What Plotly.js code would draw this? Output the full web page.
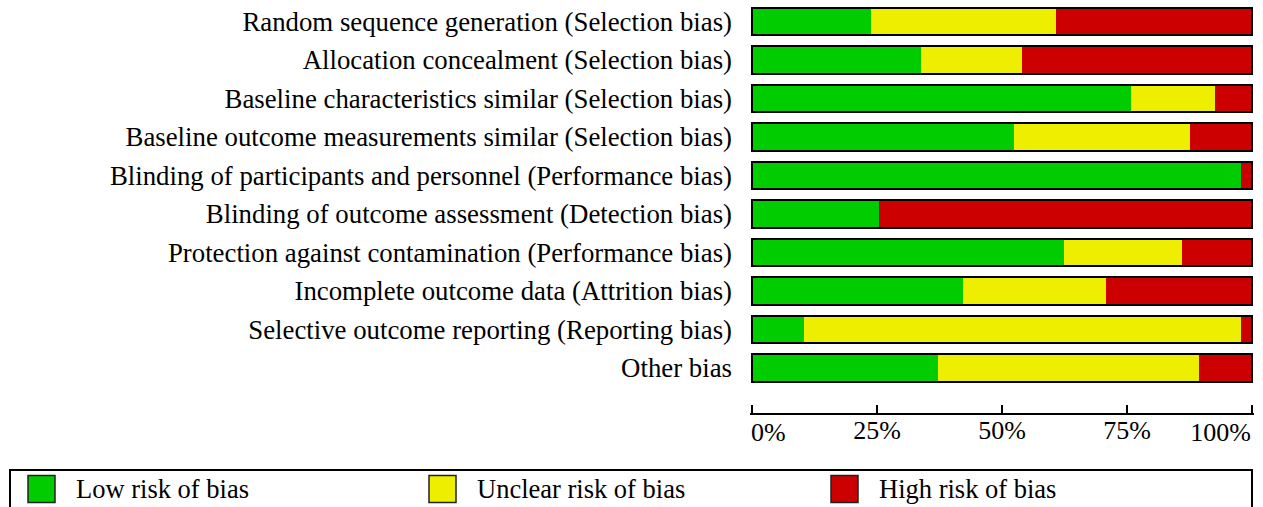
<!DOCTYPE html>
<html>
<head>
<meta charset="utf-8">
<script src="https://cdn.plot.ly/plotly-3.0.1.min.js"></script>
<style>
  html, body { margin: 0; padding: 0; background: #fff; }
  #chart { width: 1263px; height: 507px; }
</style>
</head>
<body>
<div id="chart"></div>
<script>
// ---- Data ----
const categories = [
  "Random sequence generation (Selection bias)",
  "Allocation concealment (Selection bias)",
  "Baseline characteristics similar (Selection bias)",
  "Baseline outcome measurements similar (Selection bias)",
  "Blinding of participants and personnel (Performance bias)",
  "Blinding of outcome assessment (Detection bias)",
  "Protection against contamination (Performance bias)",
  "Incomplete outcome data (Attrition bias)",
  "Selective outcome reporting (Reporting bias)",
  "Other bias"
];
const lowRisk     = [23.7, 33.8, 75.8, 52.3, 97.7, 25.4, 62.3, 42.2, 10.3, 37.2];
const unclearRisk = [37.0, 20.1, 16.8, 35.3,  0.0,  0.0, 23.6, 28.5, 87.4, 52.1];
const highRisk    = [39.3, 46.1,  7.4, 12.4,  2.3, 74.6, 14.1, 29.3,  2.3, 10.7];
const seriesNames = ["Low risk of bias", "Unclear risk of bias", "High risk of bias"];
const seriesColors = ["#00cc00", "#eeee00", "#cc0000"];
const tickValues = [0, 25, 50, 75, 100];
const tickLabels = ["0%", "25%", "50%", "75%", "100%"];

// ---- Layout constants ----
const W = 1263, H = 507;
// plot area 750..1254 with range padded so 0 -> 752 and 100 -> 1252
const ML = 750, MR = 9, MT = 0, PH = 413;
const MB = H - MT - PH;
const PW = W - ML - MR;
const XPAD = 0.4;
const FONT = "Liberation Serif, Times New Roman, serif";
const px = x => (x - ML) / PW;
const py = y => 1 - (y - MT) / PH;

const seriesValues = [lowRisk, unclearRisk, highRisk];
const traces = seriesValues.map((vals, i) => ({
  type: "bar",
  orientation: "h",
  name: seriesNames[i],
  y: categories,
  x: vals,
  marker: { color: seriesColors[i], line: { width: 0 } },
  hoverinfo: "name+x",
  showlegend: false
}));
// whole-bar black outline
const totals = categories.map((c, k) => seriesValues.reduce((s, v) => s + v[k], 0));
traces.push({
  type: "bar",
  orientation: "h",
  y: categories,
  x: totals,
  base: 0,
  marker: { color: "rgba(0,0,0,0)", line: { color: "#000", width: 2 } },
  hoverinfo: "skip",
  showlegend: false
});
// invisible anchors so the overlaying end-tick axes are drawn
["x2", "x3"].forEach(ax => traces.push({
  type: "scatter", mode: "markers", xaxis: ax, yaxis: "y",
  x: [50], y: [categories[0]], marker: { opacity: 0 },
  hoverinfo: "skip", showlegend: false
}));

// category spacing: first bar centre at 21.5px, pitch 38.5px
const pitch = 38.5, firstC = 21.5;
const rTop = -(firstC) / pitch;
const rBot = rTop + PH / pitch;

// custom legend
const shapes = [{
  type: "rect", xref: "paper", yref: "paper",
  x0: px(10), x1: px(1252), y0: py(470), y1: py(520),
  line: { color: "#000", width: 2 }, fillcolor: "rgba(0,0,0,0)", layer: "above"
}];
const annotations = [];
const legX = [28, 429, 831];
seriesNames.forEach((n, i) => {
  shapes.push({
    type: "rect", xref: "paper", yref: "paper",
    x0: px(legX[i]), x1: px(legX[i] + 27), y0: py(475.5), y1: py(502.5),
    line: { color: "#222", width: 1.5 }, fillcolor: seriesColors[i], layer: "above"
  });
  annotations.push({
    xref: "paper", yref: "paper", x: px(legX[i] + 46), y: py(489),
    xanchor: "left", yanchor: "middle", showarrow: false,
    text: n, font: { family: FONT, size: 26.5, color: "#000" }
  });
});

const tickFont = { family: FONT, size: 26, color: "#000" };
const baseX = {
  range: [-XPAD, 100 + XPAD], fixedrange: true,
  tickmode: "array",
  ticks: "inside", ticklen: 8, tickwidth: 2, tickcolor: "#000",
  showgrid: false, zeroline: false,
  tickfont: tickFont,
  ticklabeloverflow: "allow"
};
const last = tickValues.length - 1;

const layout = {
  width: W, height: H,
  margin: { l: ML, r: MR, t: MT, b: MB, pad: 0 },
  paper_bgcolor: "#fff", plot_bgcolor: "#fff",
  barmode: "stack", bargap: 0.28,
  showlegend: false,
  font: { family: FONT, size: 26, color: "#000" },
  // middle ticks, centred labels, axis line
  xaxis: Object.assign({}, baseX, {
    tickvals: tickValues.slice(1, last), ticktext: tickLabels.slice(1, last),
    showline: true, linewidth: 2, linecolor: "#000",
    ticklabelstandoff: -7
  }),
  // 0% tick, label to the right of the tick
  xaxis2: Object.assign({}, baseX, {
    overlaying: "x", anchor: "y", side: "bottom",
    tickvals: [tickValues[0]], ticktext: [tickLabels[0]],
    ticklabelposition: "outside right", showline: false,
    ticklabelstandoff: 1, ticklabelshift: -2
  }),
  // 100% tick, label to the left of the tick
  xaxis3: Object.assign({}, baseX, {
    overlaying: "x", anchor: "y", side: "bottom",
    tickvals: [tickValues[last]], ticktext: [tickLabels[last]],
    ticklabelposition: "outside left", showline: false,
    ticklabelstandoff: 1
  }),
  yaxis: {
    type: "category", categoryorder: "array", categoryarray: categories,
    range: [rBot, rTop], fixedrange: true,
    ticks: "", showline: false, showgrid: false, zeroline: false,
    tickfont: { family: FONT, size: 26.8, color: "#000" },
    ticklabelstandoff: 17
  },
  shapes: shapes,
  annotations: annotations
};

Plotly.newPlot("chart", traces, layout, { displayModeBar: false, staticPlot: true });
</script>
</body>
</html>
